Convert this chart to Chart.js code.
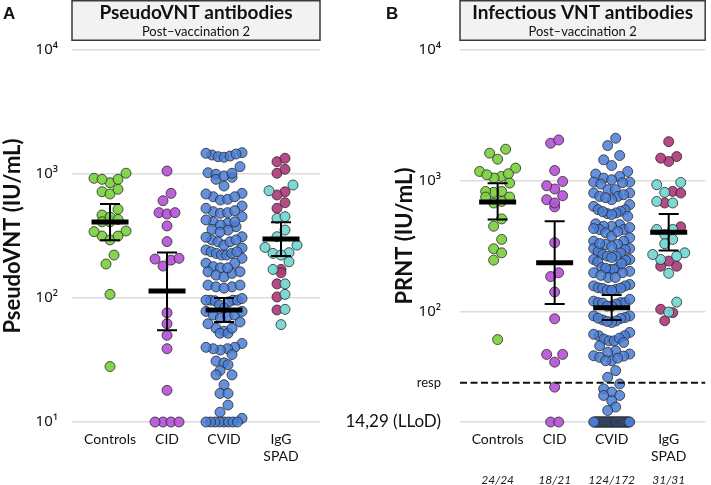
<!DOCTYPE html>
<html><head><meta charset="utf-8">
<script src="https://cdn.jsdelivr.net/npm/chart.js@4/dist/chart.umd.min.js"></script>
<style>
html,body{margin:0;padding:0;background:#fff;width:711px;height:485px;overflow:hidden}
.box{position:absolute;top:0;height:485px}
#wa{left:0;width:345px}
#wb{left:345px;width:366px}
</style></head><body>
<div class="box" id="wa"><canvas id="ca"></canvas></div>
<div class="box" id="wb"><canvas id="cb"></canvas></div>
<script>
// ---------- DATA ----------
const categories = ['Controls', 'CID', 'CVID', ['IgG', 'SPAD']];
const responders = ['24/24', '18/21', '124/172', '31/31'];
const tickLabelsA = {10: '10¹', 100: '10²', 1000: '10³', 10000: '10⁴'};
const LLOD = 14.29;
const RESP = 28.58;
const tickLabelsB = {14.29: '14,29 (LLoD)', 28.58: 'resp', 100: '10²', 1000: '10³', 10000: '10⁴'};

// Panel A - PseudoVNT (IU/mL)
const pvntControls = [1015, 923, 850, 906, 906, 720, 690, 753, 519, 467, 412, 412, 448, 347, 316, 294, 316, 343, 222, 188, 107, 28, 430];
const pvntCID = [1057, 698, 609, 488, 476, 488, 381, 285, 206, 181, 202, 209, 76, 62, 50, 39, 18, 10, 10, 10, 10];
const pvntCVID = [1486, 1422, 1380, 1365, 1396, 1449, 1469, 1146,
  1024, 995, 940, 800, 906, 964, 1014,
  698, 656, 617, 625, 656, 690,
  552, 497, 482, 453, 488, 506, 529,
  412, 400, 376, 358, 388, 412, 426, 353, 340,
  312, 294, 284, 267, 284, 294, 309, 244, 253,
  236, 229, 222, 209, 222, 229, 236, 191, 191, 179,
  175, 163, 153, 148, 158, 163, 175,
  127, 123, 123, 120, 127,
  96, 96, 93, 95, 96, 96, 99, 78, 73, 69, 71, 73, 78, 88, 83,
  57, 54, 52, 52, 57, 64, 62,
  43, 40, 39, 38, 39, 40,
  35, 31, 30, 29, 26, 24, 24,
  20, 17, 17, 13.7, 12, 10.7,
  10, 10, 10, 10, 10, 10, 10, 10];
const pvntSpadMagenta = [1256, 1340, 1014, 1091, 719, 677, 587, 529, 170, 160, 130, 102, 80];
const pvntSpadCyan = [815, 733, 439, 453, 353, 267, 312, 256, 232, 229, 222, 196, 170, 130, 107, 81, 61];
const pvntGeoMean = [410, 114, 80, 299];
const pvntCiLow = [292, 55, 64, 218];
const pvntCiHigh = [573, 233, 100, 408];

// Panel B - PRNT (IU/mL)
const prntControls = [1626, 1743, 1463, 1178, 1250, 1079, 1049, 1111, 1131, 960, 829, 815, 829, 751, 751, 676, 511, 449, 356, 302, 281, 247, 61, 695];
const prntCID = [1937, 2051, 1197, 988, 865, 916, 717, 631, 676, 769, 336, 185, 198, 141, 88, 47, 41, 47, 26.4, 14.29, 14.29];
const prntCVID = [2114, 1857, 1559, 1445, 1308,
  1177, 1125, 1078, 1048, 977, 977, 944, 1018, 966,
  854, 854, 806, 806, 759, 759, 717, 742, 782,
  657, 637, 601, 601, 584, 568, 535, 561, 581,
  468, 462, 449, 449, 424, 424, 400, 377, 366, 409, 439,
  345, 345, 326, 326, 303, 303, 289, 314, 298,
  281, 273, 265, 265, 250, 250, 240, 259, 246,
  217, 210, 210, 203, 217, 214,
  198, 198, 182, 182, 189,
  161, 157, 157, 152, 150, 148, 146, 151, 145,
  120, 117, 117, 117, 114, 110, 116, 110,
  92.6, 92.6, 90, 88.5, 86.3, 84.8, 82.4, 89, 84,
  69.2, 65.2, 65.2, 61.5, 59.7, 59.7, 54.7, 62.5, 58,
  50.1, 48.7, 47.3, 45.9, 44.6, 42, 42, 45.6, 44,
  35.3, 31.4,
  551, 431, 331, 233, 124, 67,
  27.9, 25.6, 24.2, 22.8, 22.8, 20.8, 18.6, 17.5,
  14.29, 14.29, 14.29, 14.29, 14.29, 14.29, 14.29, 14.29, 14.29, 14.29,
  14.29, 14.29, 14.29, 14.29, 14.29, 14.29, 14.29, 14.29, 14.29, 14.29,
  14.29, 14.29, 14.29, 14.29, 14.29, 14.29, 14.29, 14.29, 14.29, 14.29,
  14.29, 14.29, 14.29, 14.29, 14.29, 14.29, 14.29, 14.29, 14.29, 14.29];
const prntSpadMagenta = [1991, 1531, 1403, 1489, 829, 806, 676, 444, 222, 222, 243, 104, 98, 85];
const prntSpadCyan = [971, 933, 815, 695, 676, 424, 424, 356, 281, 250, 273, 265, 196, 118, 99, 388, 330];
const prntGeoMean = [689, 236, 107, 404];
const prntCiLow = [505, 114, 86, 293];
const prntCiHigh = [955, 490, 134, 557];

// ---------- STYLE ----------
const C_GREEN = 'rgba(124,207,62,0.92)';
const C_PURPLE = 'rgba(182,83,217,0.92)';
const C_BLUE = 'rgba(74,124,214,0.85)';
const C_MAG = 'rgba(176,58,124,0.92)';
const C_CYAN = 'rgba(114,214,210,0.92)';
const FONT = 'Lato, "Open Sans", sans-serif';
const TICKFONT = '"Noto Sans", Lato, sans-serif';

function groupsFrom(ctrl, cid, cvid, spM, spC) {
  return [
    {values: ctrl, colors: ctrl.map(() => C_GREEN)},
    {values: cid, colors: cid.map(() => C_PURPLE)},
    {values: cvid, colors: cvid.map(() => C_BLUE)},
    {values: spM.concat(spC), colors: spM.map(() => C_MAG).concat(spC.map(() => C_CYAN))}
  ];
}

function layoutSwarm(chart, groups) {
  const ys = chart.scales.y, xs = chart.scales.x;
  const ppu = xs.width / (xs.max - xs.min);
  const BIN = 10, SP = 8, MAXW = 36;
  groups.forEach((g, gi) => {
    const pts = g.values.map((v, k) => ({k, py: ys.getPixelForValue(v)}));
    pts.sort((a, b) => a.py - b.py);
    const bins = []; let cur = null;
    pts.forEach(p => {
      if (!cur || p.py - cur.start > BIN) { cur = {start: p.py, items: []}; bins.push(cur); }
      cur.items.push(p);
    });
    const ds = chart.data.datasets[gi];
    bins.forEach(b => {
      const n = b.items.length;
      const sp = n > 1 ? Math.min(SP, MAXW / (n - 1)) : 0;
      const items = b.items.slice().sort((a, c) => c.py - a.py);
      const slots = [];
      for (let i = 0; i < n; i++) slots.push(i - (n - 1) / 2);
      slots.sort((a, c) => Math.abs(a) - Math.abs(c) || a - c);
      items.forEach((p, i) => { ds.data[p.k].x = gi + slots[i] * sp / ppu; });
    });
  });
  chart.update('none');
}

function makePanel(id, o) {
  const groups = o.groups;
  const datasets = groups.map((g, gi) => ({
    type: 'scatter',
    data: g.values.map(v => ({x: gi, y: v})),
    pointRadius: 5,
    pointHoverRadius: 5,
    pointBackgroundColor: g.colors,
    pointBorderColor: '#2a2a2a',
    pointBorderWidth: 0.8,
    clip: false
  }));
  const deco = {
    id: 'deco' + id,
    beforeDraw(chart) {
      const {ctx, chartArea: a} = chart;
      ctx.save();
      ctx.fillStyle = '#f2f2f2';
      ctx.strokeStyle = '#3a3a3a';
      ctx.lineWidth = 1.5;
      ctx.fillRect(a.left, 0.75, a.right - a.left, 39.5);
      ctx.strokeRect(a.left, 0.75, a.right - a.left, 39.5);
      ctx.fillStyle = '#111';
      ctx.textAlign = 'center';
      ctx.textBaseline = 'middle';
      ctx.font = 'bold 19px ' + FONT;
      ctx.fillText(o.title, (a.left + a.right) / 2, 13);
      ctx.font = '13px ' + FONT;
      ctx.fillText(o.subtitle, (a.left + a.right) / 2, 32);
      ctx.textAlign = 'left';
      ctx.font = 'bold 17px Arial, "Liberation Sans", sans-serif';
      ctx.fillText(o.letter, o.letterX, 14);
      ctx.restore();
    },
    afterDatasetsDraw(chart) {
      const {ctx, chartArea: a, scales: {x, y}} = chart;
      ctx.save();
      if (o.resp) {
        const yr = y.getPixelForValue(o.resp);
        ctx.strokeStyle = '#111';
        ctx.lineWidth = 2;
        ctx.setLineDash([7, 3.5]);
        ctx.beginPath(); ctx.moveTo(a.left, yr); ctx.lineTo(a.right, yr); ctx.stroke();
        ctx.setLineDash([]);
      }
      ctx.strokeStyle = '#000';
      o.gm.forEach((m, i) => {
        const cx = x.getPixelForValue(i);
        const ym = y.getPixelForValue(m), yl = y.getPixelForValue(o.lo[i]), yh = y.getPixelForValue(o.hi[i]);
        ctx.lineWidth = 2;
        ctx.beginPath();
        ctx.moveTo(cx, yh); ctx.lineTo(cx, yl);
        ctx.moveTo(cx - 10, yh); ctx.lineTo(cx + 10, yh);
        ctx.moveTo(cx - 10, yl); ctx.lineTo(cx + 10, yl);
        ctx.stroke();
        ctx.lineWidth = 5;
        ctx.beginPath(); ctx.moveTo(cx - 18.5, ym); ctx.lineTo(cx + 18.5, ym); ctx.stroke();
      });
      if (o.fractions) {
        ctx.fillStyle = '#222';
        ctx.font = 'italic 12px ' + FONT;
        ctx.textAlign = 'center';
        ctx.textBaseline = 'middle';
        o.fractions.forEach((t, i) => ctx.fillText(t, x.getPixelForValue(i), a.bottom + 58));
      }
      ctx.restore();
    }
  };
  const chart = new Chart(document.getElementById(id), {
    type: 'scatter',
    data: {datasets},
    plugins: [deco],
    options: {
      responsive: true,
      maintainAspectRatio: false,
      animation: false,
      events: [],
      layout: {padding: {top: 50, right: o.padRight, left: 0, bottom: 0}},
      plugins: {legend: {display: false}, tooltip: {enabled: false}},
      scales: {
        x: {
          type: 'linear', min: o.xmin, max: o.xmax,
          grid: {display: false, drawTicks: false},
          border: {display: false},
          afterBuildTicks: s => { s.ticks = categories.map((c, i) => ({value: i})); },
          afterFit: s => { s.height = 63; },
          ticks: {
            autoSkip: false, maxRotation: 0, padding: 9,
            color: '#111',
            font: {family: FONT, size: 14, lineHeight: 1.2},
            callback: v => categories[v]
          }
        },
        y: {
          type: 'logarithmic', min: o.ymin, max: 10000,
          grid: {
            drawTicks: false, lineWidth: 1.5,
            color: ctx => (ctx.tick && ctx.tick.value === o.resp) ? 'rgba(0,0,0,0)' : '#dcdcdc'
          },
          border: {display: false},
          afterBuildTicks: s => { s.ticks = o.ticks.map(v => ({value: v})); },
          afterFit: s => { s.width = o.yWidth; },
          title: {
            display: true, text: o.yTitle, color: '#111',
            font: {family: FONT, size: 22, weight: 'bold', lineHeight: 1.2},
            padding: {top: o.titlePad, bottom: 0}
          },
          ticks: {
            padding: o.tickPad, color: '#111',
            font: ctx => {
              const v = ctx.tick ? ctx.tick.value : 0;
              if (v === LLOD) return {family: FONT, size: 17};
              if (v === RESP) return {family: FONT, size: 13};
              return {family: TICKFONT, size: 15};
            },
            callback: v => o.labels[v]
          }
        }
      }
    }
  });
  layoutSwarm(chart, groups);
  return chart;
}

makePanel('ca', {
  groups: groupsFrom(pvntControls, pvntCID, pvntCVID, pvntSpadMagenta, pvntSpadCyan),
  gm: pvntGeoMean, lo: pvntCiLow, hi: pvntCiHigh,
  title: 'PseudoVNT antibodies', subtitle: 'Post–vaccination 2',
  letter: 'A', letterX: 3,
  yTitle: 'PseudoVNT (IU/mL)', titlePad: 0,
  ymin: 10, ticks: [10, 100, 1000, 10000], labels: tickLabelsA,
  xmin: -0.667, xmax: 3.684, yWidth: 72, padRight: 25, tickPad: 14
});
makePanel('cb', {
  groups: groupsFrom(prntControls, prntCID, prntCVID, prntSpadMagenta, prntSpadCyan),
  gm: prntGeoMean, lo: prntCiLow, hi: prntCiHigh,
  title: 'Infectious VNT antibodies', subtitle: 'Post–vaccination 2',
  letter: 'B', letterX: 41,
  yTitle: 'PRNT (IU/mL)', titlePad: 47,
  ymin: LLOD, ticks: [LLOD, RESP, 100, 1000, 10000], labels: tickLabelsB,
  resp: RESP, fractions: responders,
  xmin: -0.66, xmax: 3.64, yWidth: 115, padRight: 3, tickPad: 19
});
</script>
</body></html>
